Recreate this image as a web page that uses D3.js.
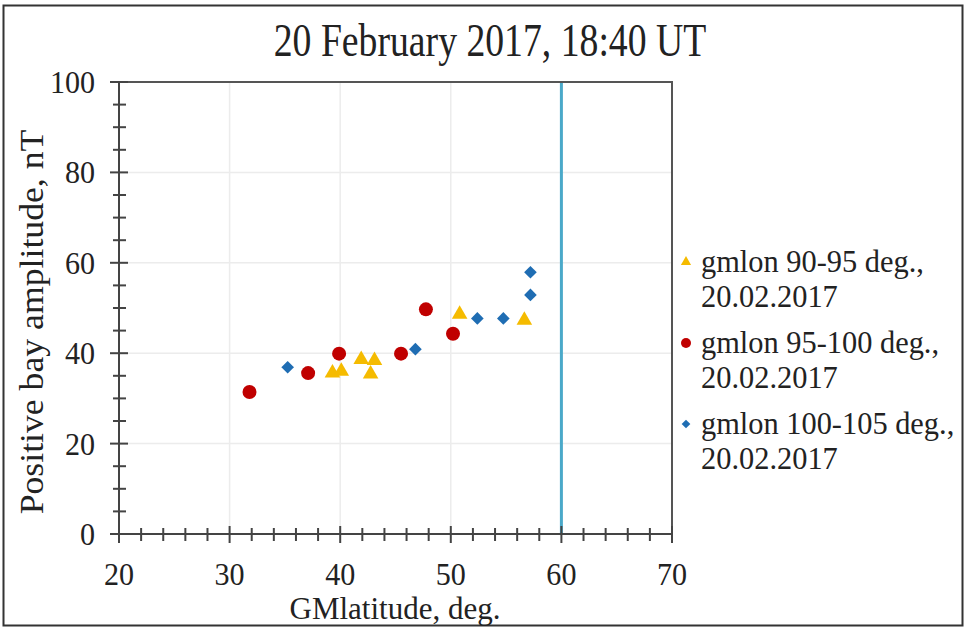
<!DOCTYPE html>
<html>
<head>
<meta charset="utf-8">
<script src="https://cdn.jsdelivr.net/npm/d3@7"></script>
<style>
  body { margin: 0; background: #fff; }
  text { font-family: "Liberation Serif", "Times New Roman", serif; fill: #222; }
</style>
</head>
<body>
<div id="chart"></div>
<script>
// Data (GM latitude, amplitude nT)
const lat9095 = [39.3, 40.1, 41.9, 43.1, 42.75, 50.8, 56.65];
const amp9095 = [35.6, 36.0, 38.6, 38.4, 35.4, 48.6, 47.3];
const lat95100 = [31.8, 37.1, 39.9, 45.5, 47.75, 50.2];
const amp95100 = [31.4, 35.6, 39.9, 39.9, 49.7, 44.3];
const lat100105 = [35.25, 46.8, 52.4, 54.75, 57.2, 57.2];
const amp100105 = [36.9, 40.9, 47.7, 47.7, 52.9, 57.9];

const seriesNames = ["gmlon 90-95 deg.,", "gmlon 95-100 deg.,", "gmlon 100-105 deg.,"];
const seriesDate = "20.02.2017";
const xTicks = [20, 30, 40, 50, 60, 70];
const yTicks = [0, 20, 40, 60, 80, 100];
const boundaryLat = 60;

const W = 967, H = 629;
const margin = {top: 82, right: 295, bottom: 95, left: 119};

const svg = d3.select("#chart").append("svg")
    .attr("width", W)
    .attr("height", H);

// outer frame of the figure
svg.append("rect")
    .attr("x", 3.5).attr("y", 5.5)
    .attr("width", 959).attr("height", 620)
    .attr("fill", "none")
    .attr("stroke", "#333")
    .attr("stroke-width", 2);

const x = d3.scaleLinear().domain([20, 70]).range([margin.left, W - margin.right]);
const y = d3.scaleLinear().domain([0, 100]).range([H - margin.bottom, margin.top]);

// gridlines
const grid = svg.append("g").attr("stroke", "#ececec").attr("stroke-width", 1.5);
grid.selectAll(".gx").data(xTicks.slice(1, -1)).enter().append("line")
    .attr("x1", d => x(d)).attr("x2", d => x(d))
    .attr("y1", y(0)).attr("y2", y(100));
grid.selectAll(".gy").data(yTicks.slice(1, -1)).enter().append("line")
    .attr("y1", d => y(d)).attr("y2", d => y(d))
    .attr("x1", x(20)).attr("x2", x(70));

// boundary line at 60 deg
svg.append("line")
    .attr("x1", x(boundaryLat)).attr("x2", x(boundaryLat))
    .attr("y1", y(0)).attr("y2", y(100))
    .attr("stroke", "#4aa9c9")
    .attr("stroke-width", 3);

// top and right frame of the plot
const frame = svg.append("g").attr("stroke", "#555").attr("stroke-width", 2).attr("fill", "none");
frame.append("path")
    .attr("d", `M${x(20) - 9},${y(100)}H${x(70)}V${y(0)}`);

// axes with crossing ticks
const xAxis = svg.append("g").attr("stroke", "#444").attr("stroke-width", 2);
xAxis.append("line").attr("x1", x(20)).attr("x2", x(70)).attr("y1", y(0)).attr("y2", y(0));
xAxis.selectAll(".tx").data(d3.range(20, 70.1, 2)).enter().append("line")
    .attr("x1", d => x(d)).attr("x2", d => x(d))
    .attr("y1", d => y(0) - (d % 10 === 0 ? 8 : 6))
    .attr("y2", d => y(0) + (d % 10 === 0 ? 9 : 7));

const yAxis = svg.append("g").attr("stroke", "#444").attr("stroke-width", 2);
yAxis.append("line").attr("x1", x(20)).attr("x2", x(20)).attr("y1", y(0) + 9).attr("y2", y(100));
yAxis.selectAll(".ty").data(d3.range(0, 100.1, 5)).enter().append("line")
    .attr("y1", d => y(d)).attr("y2", d => y(d))
    .attr("x1", d => x(20) - (d % 20 === 0 ? 9 : 6))
    .attr("x2", d => x(20) + (d % 20 === 0 ? 9 : 7));

// tick labels
svg.append("g").selectAll("text").data(xTicks).enter().append("text")
    .attr("transform", d => `translate(${x(d)},${y(0) + 50.5}) scale(0.94,1)`)
    .attr("text-anchor", "middle")
    .style("font-size", "32px")
    .text(d => d);
svg.append("g").selectAll("text").data(yTicks).enter().append("text")
    .attr("transform", d => `translate(${x(20) - 24},${y(d) + 11}) scale(0.94,1)`)
    .attr("text-anchor", "end")
    .style("font-size", "32px")
    .text(d => d);

// titles
svg.append("text")
    .attr("transform", `translate(${490},${56}) scale(0.82,1)`)
    .attr("text-anchor", "middle")
    .style("font-size", "46px")
    .text("20 February 2017, 18:40 UT");
svg.append("text")
    .attr("transform", `translate(${395},${619}) scale(1.0,1)`)
    .attr("text-anchor", "middle")
    .style("font-size", "31px")
    .text("GMlatitude, deg.");
svg.append("text")
    .attr("transform", `translate(${43},${322}) rotate(-90) scale(1.05,1)`)
    .attr("text-anchor", "middle")
    .style("font-size", "34px")
    .text("Positive bay amplitude, nT");

// markers
const triangle = d3.symbol().type(d3.symbolTriangle);
const diamond = d3.symbol().type(d3.symbolSquare);

const pts9095 = lat9095.map((v, i) => [v, amp9095[i]]);
const pts95100 = lat95100.map((v, i) => [v, amp95100[i]]);
const pts100105 = lat100105.map((v, i) => [v, amp100105[i]]);

svg.append("g").selectAll("path").data(pts9095).enter().append("path")
    .attr("d", triangle.size(105)())
    .attr("transform", d => `translate(${x(d[0])},${y(d[1])})`)
    .attr("fill", "#f5bb00");

svg.append("g").selectAll("circle").data(pts95100).enter().append("circle")
    .attr("cx", d => x(d[0])).attr("cy", d => y(d[1]))
    .attr("r", 7)
    .attr("fill", "#c00000");

svg.append("g").selectAll("path").data(pts100105).enter().append("path")
    .attr("d", diamond.size(80)())
    .attr("transform", d => `translate(${x(d[0])},${y(d[1])}) rotate(45)`)
    .attr("fill", "#1f6db3");

// legend
const legend = svg.append("g");
const legendMarks = [
  g => g.append("path").attr("d", triangle.size(45)()).attr("fill", "#f5bb00"),
  g => g.append("circle").attr("r", 5).attr("fill", "#c00000"),
  g => g.append("path").attr("d", diamond.size(38)()).attr("transform", "rotate(45)").attr("fill", "#1f6db3")
];
seriesNames.forEach((name, i) => {
  const g = legend.append("g").attr("transform", `translate(686,${262 + i * 81})`);
  legendMarks[i](g);
  g.append("text")
      .attr("transform", "translate(15,10) scale(0.95,1)")
      .style("font-size", "32px")
      .text(name);
  g.append("text")
      .attr("transform", "translate(15,45) scale(0.95,1)")
      .style("font-size", "32px")
      .text(seriesDate);
});
</script>
</body>
</html>
